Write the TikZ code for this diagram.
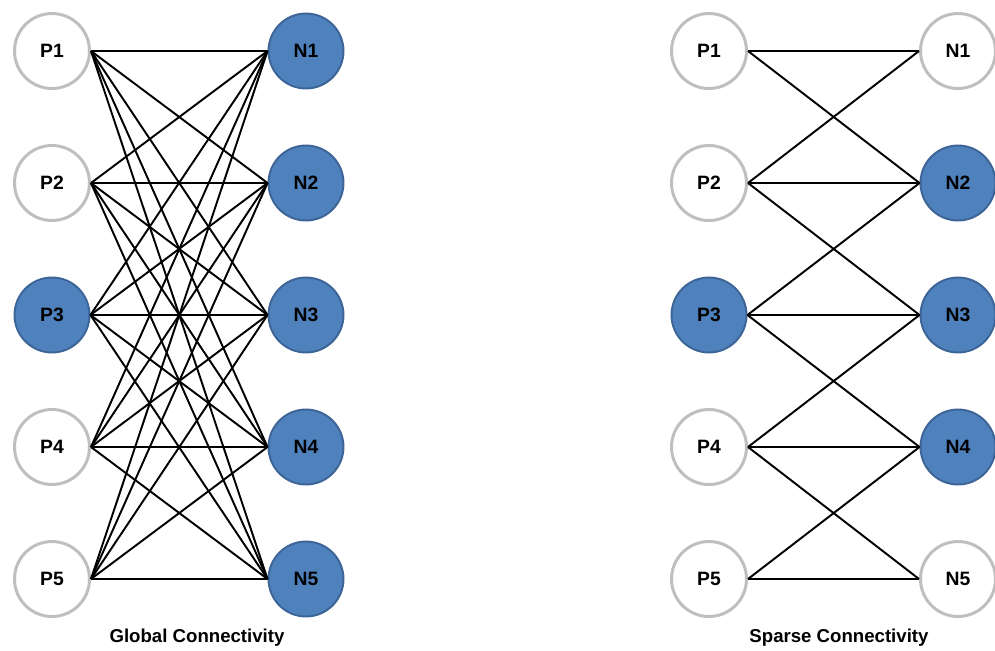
\documentclass[tikz,border=0pt]{standalone}
\usepackage{fontspec}
\setmainfont{Liberation Sans}
\definecolor{nodeblue}{HTML}{4F81BD}
\definecolor{nodeedge}{HTML}{3C6496}
\definecolor{ringgray}{HTML}{BFBFBF}
\begin{document}
\begin{tikzpicture}[x=0.02cm, y=-0.02cm]
	\tikzset{
	    pnode/.style= {circle, draw=ringgray, line width=1.7pt, fill=white, minimum size=1.5cm, inner sep=0pt, font=\fontsize{11}{13}\selectfont\bfseries},
	    pfull/.style= {pnode, draw=nodeedge, line width=1.1pt, fill=nodeblue},
	    link/.style= {black, line width=1.1pt},
	    caption/.style= {font=\fontsize{10.6}{12}\selectfont\bfseries},
	}
	\useasboundingbox (0, 0) rectangle (995, 650);

	% global connectivity
	\node[pnode] (gp1) at (52, 51) {P1};
	\node[pnode] (gp2) at (52, 183) {P2};
	\node[pfull] (gp3) at (52, 315) {P3};
	\node[pnode] (gp4) at (52, 447) {P4};
	\node[pnode] (gp5) at (52, 579) {P5};
	\foreach \i in {1,...,5}
	    \node[pfull] (gn\i) at (306, {51+132*(\i-1)}) {N\i};

	\foreach \i in {1,...,5}
	    \foreach \j in {1,...,5}
	        \draw[link] (gp\i.east) -- (gn\j.west);

	\node[caption] (gtitle) at (197, 638) {Global Connectivity};

	% sparse connectivity
	\node[pnode] (sp1) at (709, 51) {P1};
	\node[pnode] (sp2) at (709, 183) {P2};
	\node[pfull] (sp3) at (709, 315) {P3};
	\node[pnode] (sp4) at (709, 447) {P4};
	\node[pnode] (sp5) at (709, 579) {P5};
	\node[pnode] (sn1) at (958, 51) {N1};
	\node[pfull] (sn2) at (958, 183) {N2};
	\node[pfull] (sn3) at (958, 315) {N3};
	\node[pfull] (sn4) at (958, 447) {N4};
	\node[pnode] (sn5) at (958, 579) {N5};

	\foreach \i/\j in {1/1, 1/2, 2/1, 2/2, 2/3, 3/2, 3/3, 3/4, 4/3, 4/4, 4/5, 5/4, 5/5}
	    \draw[link] (sp\i.east) -- (sn\j.west);

	\node[caption] (stitle) at (839, 638) {Sparse Connectivity};
\end{tikzpicture}
\end{document}
